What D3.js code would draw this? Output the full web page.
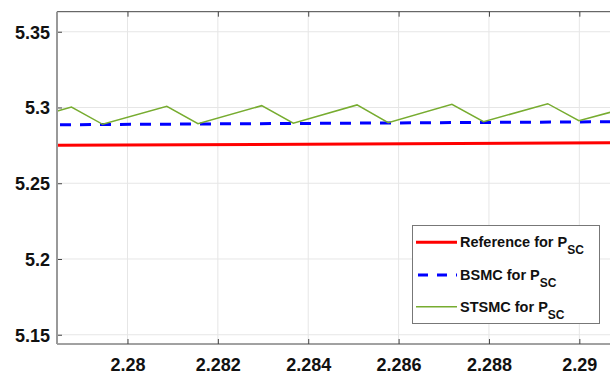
<!DOCTYPE html>
<html><head><meta charset="utf-8">
<script src="https://cdn.jsdelivr.net/npm/d3@7"></script>
<style>body{margin:0;background:#fff}svg{display:block}text{font-family:"Liberation Sans",Arial,sans-serif;font-weight:bold}</style>
</head><body><svg id="c" width="610" height="374"></svg>
<script>
const xTicks = [2.28, 2.282, 2.284, 2.286, 2.288, 2.29];
const yTicks = [5.15, 5.2, 5.25, 5.3, 5.35];
const refT = [2.27844, 2.29073];
const refV = [5.2750, 5.2768];
const bsmcT = [2.27844, 2.29073];
const bsmcV = [5.2886, 5.2906];
const stsmcT = [2.27845, 2.27876, 2.27945, 2.28087, 2.28156, 2.28297, 2.28367, 2.28508, 2.28577, 2.28718, 2.28788, 2.28930, 2.28999, 2.29068];
const stsmcV = [5.2977, 5.3003, 5.2889, 5.3008, 5.2893, 5.3012, 5.2896, 5.3017, 5.2900, 5.3021, 5.2906, 5.3025, 5.2913, 5.2968];
const seriesNames = ["Reference for P", "BSMC for P", "STSMC for P"];

const L = 57, R = 612, T = 11.7, B = 344;
const svg = d3.select("#c");
const x = d3.scaleLinear().domain([2.27844, 2.290723]).range([L, R]);
const y = d3.scaleLinear().domain([5.14389, 5.36323]).range([B, T]);

const defs = svg.append("defs");
defs.append("clipPath").attr("id","clip").append("rect").attr("x",L).attr("y",T).attr("width",R-L).attr("height",B-T);

// grid
const g = svg.append("g");
g.selectAll(".gx").data(xTicks).enter().append("line")
  .attr("x1",d=>x(d)).attr("x2",d=>x(d)).attr("y1",T).attr("y2",B)
  .attr("stroke","#e6e6e6").attr("stroke-width",1);
g.selectAll(".gy").data(yTicks).enter().append("line")
  .attr("x1",L).attr("x2",R).attr("y1",d=>y(d)).attr("y2",d=>y(d))
  .attr("stroke","#e6e6e6").attr("stroke-width",1);

// series
const lines = svg.append("g").attr("clip-path","url(#clip)");
const mk = (ts, vs) => ts.map((t,i)=>[t, vs[i]]);
const line = d3.line().x(d=>x(d[0])).y(d=>y(d[1]));
lines.append("path").datum(mk(refT,refV)).attr("d",line).attr("fill","none").attr("stroke","#ff0000").attr("stroke-width",3);
lines.append("path").datum(mk(bsmcT,bsmcV)).attr("d",line).attr("fill","none").attr("stroke","#0000ff").attr("stroke-width",3).attr("stroke-dasharray","11,9").attr("stroke-dashoffset",-3);
lines.append("path").datum(mk(stsmcT,stsmcV)).attr("d",line).attr("fill","none").attr("stroke","#77ac30").attr("stroke-width",1.5);

// axes
const axB = svg.append("g").attr("transform",`translate(0,${B})`)
  .call(d3.axisBottom(x).tickValues(xTicks).tickSize(-5).tickPadding(14).tickFormat(d3.format("")));
const axT = svg.append("g").attr("transform",`translate(0,${T})`)
  .call(d3.axisTop(x).tickValues(xTicks).tickSize(-5).tickFormat(""));
const axL = svg.append("g").attr("transform",`translate(${L},0)`)
  .call(d3.axisLeft(y).tickValues(yTicks).tickSize(-5).tickPadding(7).tickFormat(d3.format("")));
[axB, axT, axL].forEach(a=>{
  a.select(".domain").remove();
  a.selectAll(".tick line").attr("stroke","#444").attr("stroke-width",1);
  a.selectAll("text").attr("fill","#111").style("font-size","18px").style("font-family","'Liberation Sans',Arial,sans-serif").style("font-weight","bold");
});
axL.selectAll("text").attr("dy","0.36em");
svg.append("line").attr("x1",L).attr("x2",R).attr("y1",T).attr("y2",T).attr("stroke","#444").attr("stroke-width",1);
svg.append("line").attr("x1",L).attr("x2",R).attr("y1",B).attr("y2",B).attr("stroke","#444").attr("stroke-width",1);
svg.append("line").attr("x1",L).attr("x2",L).attr("y1",T).attr("y2",B).attr("stroke","#999").attr("stroke-width",2);

// legend
const lg = svg.append("g");
lg.append("rect").attr("x",412.5).attr("y",225.5).attr("width",187).attr("height",98).attr("fill","#fff").attr("stroke","#777").attr("stroke-width",1);
const lgY = [242.3, 275, 306.7];
const styles = [
  {c:"#ff0000", w:3, dash:null},
  {c:"#0000ff", w:3, dash:"10,9"},
  {c:"#77ac30", w:1.5, dash:null}
];
seriesNames.forEach((n,i)=>{
  const s = styles[i];
  const l = lg.append("line").attr("x1",416).attr("x2",457).attr("y1",lgY[i]).attr("y2",lgY[i]).attr("stroke",s.c).attr("stroke-width",s.w);
  if (s.dash) l.attr("stroke-dasharray",s.dash).attr("stroke-dashoffset",-2);
  const t = lg.append("text").attr("x",460).attr("y",lgY[i]+5).style("font-size","14.5px").attr("fill","#111");
  t.append("tspan").text(n);
  t.append("tspan").attr("dy",7).style("font-size","12px").text("SC");
});
</script></body></html>
